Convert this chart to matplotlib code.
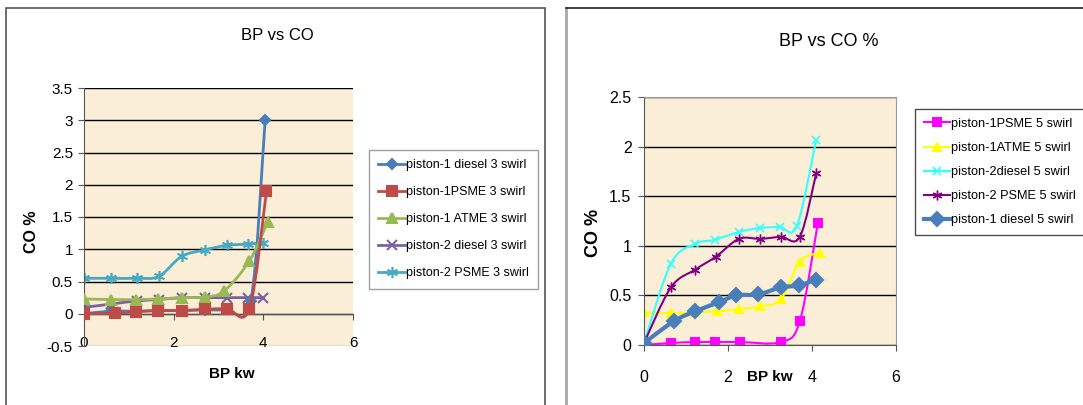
import matplotlib.pyplot as plt
import numpy as np
from matplotlib.path import Path
from matplotlib.patches import PathPatch, Rectangle
from matplotlib.lines import Line2D
from matplotlib.ticker import FormatStrFormatter

W, H = 1083, 405

######################## données : graphique gauche (3 swirl) ########################
x_g_diesel1 = [0, 0.6, 1.16, 1.66, 2.18, 2.70, 3.18, 3.72, 4.04]
y_g_diesel1 = [0.0, 0.04, 0.04, 0.05, 0.05, 0.06, 0.07, 0.2, 3.0]
x_g_psme1 = [0, 0.70, 1.16, 1.66, 2.18, 2.70, 3.18, 3.69, 4.07]
y_g_psme1 = [0.0, 0.01, 0.03, 0.05, 0.05, 0.07, 0.08, 0.08, 1.9]
x_g_atme1 = [0, 0.61, 1.16, 1.66, 2.18, 2.70, 3.12, 3.69, 4.10]
y_g_atme1 = [0.23, 0.22, 0.22, 0.23, 0.25, 0.26, 0.35, 0.82, 1.43]
x_g_diesel2 = [0, 0.61, 1.18, 1.67, 2.18, 2.70, 3.18, 3.66, 3.99]
y_g_diesel2 = [0.1, 0.15, 0.2, 0.22, 0.25, 0.25, 0.25, 0.25, 0.25]
x_g_psme2 = [0, 0.61, 1.18, 1.67, 2.18, 2.70, 3.18, 3.66, 3.99]
y_g_psme2 = [0.55, 0.55, 0.55, 0.58, 0.89, 0.99, 1.06, 1.08, 1.10]
noms_g = ['piston-1 diesel 3 swirl', 'piston-1PSME 3 swirl', 'piston-1 ATME 3 swirl',
          'piston-2 diesel 3 swirl', 'piston-2 PSME 3 swirl']

######################## données : graphique droit (5 swirl) ########################
x_d_psme1 = [0, 0.64, 1.22, 1.68, 2.28, 3.26, 3.71, 4.14]
y_d_psme1 = [0.0, 0.02, 0.03, 0.03, 0.03, 0.03, 0.24, 1.23]
x_d_atme1 = [0, 0.64, 1.22, 1.73, 2.26, 2.77, 3.26, 3.71, 4.18]
y_d_atme1 = [0.33, 0.32, 0.33, 0.34, 0.36, 0.39, 0.46, 0.84, 0.93]
x_d_diesel2 = [0, 0.64, 1.22, 1.68, 2.26, 2.77, 3.23, 3.64, 4.10]
y_d_diesel2 = [0.02, 0.82, 1.02, 1.06, 1.14, 1.18, 1.19, 1.20, 2.07]
x_d_psme2 = [0, 0.64, 1.22, 1.71, 2.26, 2.77, 3.26, 3.71, 4.10]
y_d_psme2 = [0.02, 0.58, 0.76, 0.89, 1.07, 1.07, 1.09, 1.09, 1.73]
x_d_diesel1 = [0, 0.71, 1.22, 1.78, 2.20, 2.72, 3.25, 3.68, 4.10]
y_d_diesel1 = [0.02, 0.24, 0.34, 0.43, 0.50, 0.51, 0.58, 0.60, 0.66]
noms_d = ['piston-1PSME 5 swirl', 'piston-1ATME 5 swirl', 'piston-2diesel 5 swirl',
          'piston-2 PSME 5 swirl', 'piston-1 diesel 5 swirl']

ARIAL = ['Liberation Sans', 'DejaVu Sans']
FOND = '#FAEED6'


def chemin_lisse(x, y):
    # courbe lissée façon Excel (Bezier type Catmull-Rom)
    pts = np.column_stack([x, y]).astype(float)
    n = len(pts)
    verts = [pts[0]]
    codes = [Path.MOVETO]
    for i in range(n - 1):
        p0 = pts[i - 1] if i > 0 else pts[i]
        p1 = pts[i]
        p2 = pts[i + 1]
        p3 = pts[i + 2] if i + 2 < n else pts[i + 1]
        verts += [p1 + (p2 - p0) / 6., p2 - (p3 - p1) / 6., p2]
        codes += [Path.CURVE4] * 3
    return Path(verts, codes)


def courbe(ax, x, y, c, lw, m, ms, z, mew=1.5):
    ax.add_patch(PathPatch(chemin_lisse(x, y), fill=False, edgecolor=c, lw=lw,
                           zorder=z, joinstyle='round', capstyle='round'))
    ax.plot(x, y, ls='none', marker=m, ms=ms, color=c, mec=c, mew=mew, zorder=z + 0.5)
    return Line2D([], [], color=c, lw=lw, marker=m, ms=ms, mew=mew)


fig = plt.figure(figsize=(W / 100, H / 100), dpi=100)

# cadres des deux graphiques
fig.add_artist(Rectangle((6 / W, -0.1), (545 - 6) / W, 1.1 - 8 / H, transform=fig.transFigure,
                         fill=False, edgecolor='#555555', lw=1.2))
fig.add_artist(Line2D([566 / W, 566 / W], [-0.1, 1 - 8 / H], transform=fig.transFigure,
                      color='#A8A8A8', lw=2))
fig.add_artist(Line2D([566 / W, 1.01], [1 - 8 / H, 1 - 8 / H], transform=fig.transFigure,
                      color='#222222', lw=1.2))

########################################## graphique gauche ##########################################
ax1 = fig.add_axes([84 / W, 1 - 346 / H, 269 / W, 258 / H])
ax1.set_facecolor(FOND)
h1 = []
h1.append(courbe(ax1, x_g_diesel1, y_g_diesel1, '#4A7EBB', 2, 'D', 5, 3))
h1.append(courbe(ax1, x_g_psme1, y_g_psme1, '#BE4B48', 2, 's', 7, 4))
h1.append(courbe(ax1, x_g_atme1, y_g_atme1, '#98B954', 2, '^', 7, 3))
h1.append(courbe(ax1, x_g_diesel2, y_g_diesel2, '#7D60A0', 2, 'x', 7, 2))
h1.append(courbe(ax1, x_g_psme2, y_g_psme2, '#46AAC5', 2, (6, 2, 0), 8, 2, 1.2))
ax1.set_xlim(0, 6)
ax1.set_ylim(-0.5, 3.5)
ax1.set_xticks([0, 2, 4, 6])
ax1.set_yticks(np.arange(-0.5, 3.51, 0.5))
ax1.yaxis.set_major_formatter(FormatStrFormatter('%g'))
ax1.yaxis.grid(True, color='black', lw=1)
ax1.get_ygridlines()[0].set_color('#999999')
ax1.set_axisbelow(True)
for s in ['top', 'right']:
    ax1.spines[s].set_visible(False)
ax1.spines['bottom'].set_position(('data', 0))
ax1.spines['bottom'].set_color('#555555')
ax1.spines['left'].set_color('#555555')
ax1.tick_params(axis='x', direction='out', length=4, pad=12, color='#555555')
ax1.tick_params(axis='y', direction='out', length=4, pad=4, color='#555555')
for t in ax1.get_xticklabels() + ax1.get_yticklabels():
    t.set_family(ARIAL)
    t.set_fontsize(11)
fig.text(277 / W, 1 - 35 / H, 'BP vs CO', ha='center', va='center', fontsize=12, family=ARIAL)
fig.text(31 / W, 1 - 232 / H, 'CO %', ha='center', va='center', rotation=90, fontsize=11.5,
         fontweight='bold', family=ARIAL)
fig.text(232 / W, 1 - 374 / H, 'BP kw', ha='center', va='center', fontsize=11,
         fontweight='bold', family=ARIAL)
leg1 = fig.legend(h1, noms_g, loc='upper left', bbox_to_anchor=(369 / W, 1 - 150 / H),
                  prop={'family': ARIAL, 'size': 9}, frameon=True, fancybox=False,
                  edgecolor='#888888', borderaxespad=0, handlelength=2.1, handletextpad=0.1,
                  labelspacing=1.2, borderpad=0.75, numpoints=1)
leg1.get_frame().set_linewidth(1)

########################################## graphique droit ##########################################
ax2 = fig.add_axes([644 / W, 1 - 345 / H, 252 / W, 248 / H])
ax2.set_facecolor(FOND)
h2 = []
h2.append(courbe(ax2, x_d_psme1, y_d_psme1, '#FF00FF', 1.5, 's', 6, 2))
h2.append(courbe(ax2, x_d_atme1, y_d_atme1, '#FFFF00', 1.5, '^', 6, 2))
h2.append(courbe(ax2, x_d_diesel2, y_d_diesel2, '#33FFFF', 1.5, 'x', 6, 2, 1.2))
h2.append(courbe(ax2, x_d_psme2, y_d_psme2, '#800080', 1.5, (6, 2, 0), 7, 2, 1.0))
h2.append(courbe(ax2, x_d_diesel1, y_d_diesel1, '#4A7EBB', 3, 'D', 7, 3))
ax2.set_xlim(0, 6)
ax2.set_ylim(0, 2.5)
ax2.set_xticks([0, 2, 4, 6])
ax2.set_yticks(np.arange(0, 2.51, 0.5))
ax2.yaxis.set_major_formatter(FormatStrFormatter('%g'))
ax2.yaxis.grid(True, color='black', lw=1)
ax2.set_axisbelow(True)
ax2.spines['top'].set_color('#999999')
ax2.spines['right'].set_color('#999999')
ax2.spines['bottom'].set_color('#555555')
ax2.spines['left'].set_color('#555555')
ax2.tick_params(axis='x', direction='out', length=4, pad=14, color='#555555')
ax2.tick_params(axis='y', direction='out', length=4, pad=5, color='#555555')
for t in ax2.get_xticklabels() + ax2.get_yticklabels():
    t.set_family(ARIAL)
    t.set_fontsize(11.5)
fig.text(829 / W, 1 - 42 / H, 'BP vs CO %', ha='center', va='center', fontsize=13, family=ARIAL)
fig.text(593 / W, 1 - 233 / H, 'CO %', ha='center', va='center', rotation=90, fontsize=13,
         fontweight='bold', family=ARIAL)
fig.text(770 / W, 1 - 377 / H, 'BP kw', ha='center', va='center', fontsize=11,
         fontweight='bold', family=ARIAL)
leg2 = fig.legend(h2, noms_d, loc='upper left', bbox_to_anchor=(915 / W, 1 - 109 / H),
                  prop={'family': ARIAL, 'size': 9.2}, frameon=True, fancybox=False,
                  edgecolor='#222222', borderaxespad=0, handlelength=2.0, handletextpad=0.1,
                  labelspacing=0.95, borderpad=0.7, numpoints=1)
leg2.get_frame().set_linewidth(1)

plt.savefig('out.png', dpi=100)
